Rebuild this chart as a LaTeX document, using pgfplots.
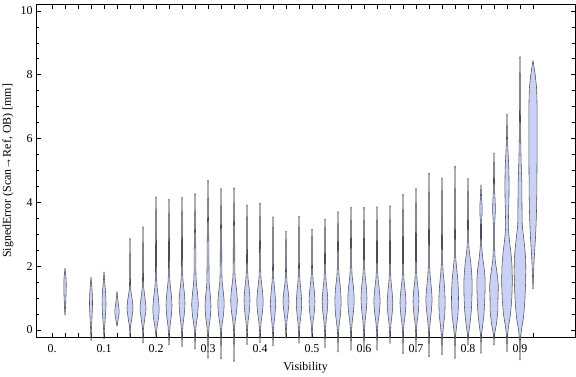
\documentclass[border=0pt]{standalone}
\usepackage{fontspec}
\setmainfont{Liberation Serif}
\usepackage{pgfplots}
\pgfplotsset{compat=1.18}
\usepackage{pgfplotstable}
\definecolor{vfill}{HTML}{C9D1F5}
\definecolor{vedge}{HTML}{4C4C55}

\pgfplotstableread{
c y w
0.025 0.47 0
0.025 0.7 0.5
0.025 1.0 0.9
0.025 1.3 1.2
0.025 1.5 1.2
0.025 1.7 0.8
0.025 1.93 0
0.025 nan 0
0.075 -0.33 0
0.075 0.0 0.4
0.075 0.4 1.0
0.075 0.8 1.5
0.075 1.1 1.3
0.075 1.4 0.7
0.075 1.65 0
0.075 nan 0
0.1 -0.28 0
0.1 0.0 0.4
0.1 0.4 1.3
0.1 0.8 2.0
0.1 1.2 1.5
0.1 1.5 0.7
0.1 1.82 0
0.1 nan 0
0.125 0.12 0
0.125 0.3 1.0
0.125 0.57 2.2
0.125 0.85 1.2
0.125 1.2 0
0.125 nan 0
0.15 -0.21 0
0.15 0.1 0.5
0.15 0.4 2.0
0.15 0.7 3.0
0.15 1.0 2.0
0.15 1.3 0.6
0.15 2.0 0.4
0.15 2.87 0
0.15 nan 0
0.175 -0.41 0
0.175 0.0 0.4
0.175 0.3 1.5
0.175 0.65 3.0
0.175 1.0 2.0
0.175 1.4 0.6
0.175 2.3 0.4
0.175 3.24 0
0.175 nan 0
0.2 -0.21 0
0.2 -0.05 0.6
0.2 0.15 1.3
0.2 0.35 2.4
0.2 0.65 3.2
0.2 1.0 2.4
0.2 1.35 1.1
0.2 1.75 0.55
0.2 2.6 0.5
0.2 3.6 0.3
0.2 4.18 0
0.2 nan 0
0.225 -0.47 0
0.225 -0.17 0.45
0.225 0.13 1.05
0.225 0.43 2.25
0.225 0.78 3.0
0.225 1.13 2.25
0.225 1.48 1.05
0.225 1.88 0.55
0.225 2.7 0.5
0.225 3.5 0.3
0.225 4.10 0
0.225 nan 0
0.25 -0.52 0
0.25 -0.11 0.45
0.25 0.19 1.05
0.25 0.49 2.25
0.25 0.84 3.0
0.25 1.19 2.25
0.25 1.54 1.05
0.25 1.94 0.55
0.25 2.75 0.5
0.25 3.55 0.3
0.25 4.16 0
0.25 nan 0
0.275 -0.60 0
0.275 -0.15 0.45
0.275 0.15 1.15
0.275 0.45 2.5
0.275 0.8 3.3
0.275 1.15 2.5
0.275 1.5 1.3
0.275 1.9 0.9
0.275 2.5 0.8
0.275 3.3 0.4
0.275 4.28 0
0.275 nan 0
0.3 -0.89 0
0.3 -0.2 0.45
0.3 0.1 1.05
0.3 0.4 2.25
0.3 0.75 3.0
0.3 1.1 2.25
0.3 1.45 1.2
0.3 1.9 1.0
0.3 2.7 0.8
0.3 3.7 0.4
0.3 4.70 0
0.3 nan 0
0.325 -0.91 0
0.325 -0.13 0.45
0.325 0.17 1.1
0.325 0.47 2.4
0.325 0.82 3.2
0.325 1.17 2.4
0.325 1.52 1.2
0.325 1.95 0.8
0.325 2.7 0.7
0.325 3.6 0.35
0.325 4.44 0
0.325 nan 0
0.35 -0.99 0
0.35 -0.03 0.45
0.35 0.27 1.15
0.35 0.57 2.5
0.35 0.92 3.3
0.35 1.27 2.5
0.35 1.62 1.2
0.35 2.0 0.8
0.35 2.8 0.7
0.35 3.7 0.35
0.35 4.46 0
0.35 nan 0
0.375 -0.46 0
0.375 -0.03 0.45
0.375 0.27 1.05
0.375 0.57 2.25
0.375 0.92 3.0
0.375 1.27 2.25
0.375 1.62 1.05
0.375 2.0 0.55
0.375 2.7 0.45
0.375 3.4 0.3
0.375 3.92 0
0.375 nan 0
0.4 -0.40 0
0.4 -0.05 0.45
0.4 0.25 1.1
0.4 0.55 2.4
0.4 0.9 3.2
0.4 1.25 2.4
0.4 1.6 1.1
0.4 2.0 0.6
0.4 2.7 0.5
0.4 3.4 0.3
0.4 3.98 0
0.4 nan 0
0.425 -0.50 0
0.425 -0.13 0.45
0.425 0.17 0.9
0.425 0.47 1.95
0.425 0.82 2.6
0.425 1.17 1.95
0.425 1.52 0.9
0.425 1.9 0.5
0.425 2.5 0.45
0.425 3.1 0.3
0.425 3.55 0
0.425 nan 0
0.45 -0.26 0
0.45 0.0 0.45
0.45 0.3 1.0
0.45 0.6 2.2
0.45 0.89 3.0
0.45 1.2 2.2
0.45 1.5 1.0
0.45 1.85 0.5
0.45 2.4 0.4
0.45 2.8 0.25
0.45 3.10 0
0.45 nan 0
0.475 -0.42 0
0.475 -0.1 0.45
0.475 0.2 0.95
0.475 0.5 2.0
0.475 0.85 2.7
0.475 1.2 2.0
0.475 1.55 0.95
0.475 1.95 0.5
0.475 2.6 0.45
0.475 3.1 0.3
0.475 3.57 0
0.475 nan 0
0.5 -0.24 0
0.5 0.0 0.45
0.5 0.27 1.05
0.5 0.55 2.25
0.5 0.89 3.0
0.5 1.24 2.25
0.5 1.59 1.05
0.5 1.95 0.5
0.5 2.5 0.45
0.5 2.85 0.3
0.5 3.16 0
0.5 nan 0
0.525 -0.55 0
0.525 -0.06 0.45
0.525 0.24 1.0
0.525 0.54 2.1
0.525 0.89 2.8
0.525 1.24 2.1
0.525 1.59 1.0
0.525 2.0 0.55
0.525 2.6 0.45
0.525 3.1 0.3
0.525 3.48 0
0.525 nan 0
0.55 -0.69 0
0.55 -0.1 0.5
0.55 0.2 1.3
0.55 0.5 2.5
0.55 0.9 3.1
0.55 1.3 2.5
0.55 1.65 1.2
0.55 2.05 0.6
0.55 2.7 0.5
0.55 3.2 0.3
0.55 3.71 0
0.55 nan 0
0.575 -0.63 0
0.575 -0.05 0.5
0.575 0.25 1.2
0.575 0.58 2.5
0.575 0.95 3.2
0.575 1.32 2.5
0.575 1.68 1.2
0.575 2.1 0.6
0.575 2.8 0.5
0.575 3.3 0.3
0.575 3.85 0
0.575 nan 0
0.6 -0.68 0
0.6 -0.05 0.45
0.6 0.28 1.1
0.6 0.62 2.3
0.6 1.0 3.0
0.6 1.37 2.3
0.6 1.72 1.1
0.6 2.1 0.55
0.6 2.8 0.5
0.6 3.3 0.3
0.6 3.85 0
0.6 nan 0
0.625 -0.63 0
0.625 -0.05 0.45
0.625 0.25 1.1
0.625 0.55 2.35
0.625 0.9 3.1
0.625 1.25 2.35
0.625 1.6 1.1
0.625 2.0 0.55
0.625 2.7 0.5
0.625 3.3 0.3
0.625 3.87 0
0.625 nan 0
0.65 -0.42 0
0.65 -0.1 0.45
0.65 0.2 1.0
0.65 0.5 2.1
0.65 0.85 2.8
0.65 1.2 2.1
0.65 1.55 1.0
0.65 1.95 0.55
0.65 2.7 0.5
0.65 3.3 0.3
0.65 3.90 0
0.65 nan 0
0.675 -0.75 0
0.675 -0.1 0.45
0.675 0.2 1.05
0.675 0.5 2.25
0.675 0.85 3.0
0.675 1.2 2.25
0.675 1.55 1.05
0.675 1.95 0.55
0.675 2.8 0.5
0.675 3.6 0.3
0.675 4.26 0
0.675 nan 0
0.7 -0.66 0
0.7 -0.05 0.45
0.7 0.25 1.05
0.7 0.55 2.25
0.7 0.9 3.0
0.7 1.25 2.25
0.7 1.6 1.05
0.7 2.0 0.55
0.7 2.9 0.5
0.7 3.8 0.3
0.7 4.44 0
0.7 nan 0
0.725 -0.84 0
0.725 -0.1 0.45
0.725 0.25 1.2
0.725 0.6 2.35
0.725 0.95 3.1
0.725 1.3 2.4
0.725 1.7 1.2
0.725 2.1 0.6
0.725 3.0 0.5
0.725 4.1 0.3
0.725 4.92 0
0.725 nan 0
0.75 -0.78 0
0.75 -0.3 0.4
0.75 0.1 1.4
0.75 0.5 2.8
0.75 0.95 3.1
0.75 1.4 2.4
0.75 1.8 1.2
0.75 2.2 0.6
0.75 3.2 0.45
0.75 4.2 0.3
0.75 4.77 0
0.75 nan 0
0.775 -0.90 0
0.775 -0.3 0.4
0.775 0.1 1.5
0.775 0.5 3.0
0.775 1.0 3.5
0.775 1.5 3.0
0.775 1.9 1.8
0.775 2.3 0.7
0.775 3.0 0.5
0.775 4.0 0.35
0.775 5.14 0
0.775 nan 0
0.8 -0.47 0
0.8 -0.15 0.5
0.8 0.2 2.0
0.8 0.6 3.3
0.8 1.1 4.0
0.8 1.6 4.0
0.8 2.1 2.8
0.8 2.5 1.2
0.8 2.9 0.6
0.8 3.6 0.45
0.8 4.2 0.3
0.8 4.75 0
0.8 nan 0
0.825 -0.73 0
0.825 -0.2 0.4
0.825 0.1 1.5
0.825 0.5 3.0
0.825 1.0 3.8
0.825 1.5 4.2
0.825 1.9 3.3
0.825 2.3 1.6
0.825 2.7 0.6
0.825 3.3 0.5
0.825 3.6 1.0
0.825 3.85 1.2
0.825 4.1 0.7
0.825 4.55 0
0.825 nan 0
0.85 -0.47 0
0.85 -0.15 0.5
0.85 0.2 2.5
0.85 0.6 3.8
0.85 1.0 4.0
0.85 1.4 4.3
0.85 1.8 3.0
0.85 2.2 1.2
0.85 2.7 0.6
0.85 3.3 0.7
0.85 3.7 1.3
0.85 4.0 1.2
0.85 4.4 0.6
0.85 5.0 0.4
0.85 5.55 0
0.85 nan 0
0.875 -0.68 0
0.875 -0.2 0.5
0.875 0.1 1.5
0.875 0.5 3.5
0.875 1.0 4.8
0.875 1.5 5.3
0.875 2.0 5.0
0.875 2.4 4.0
0.875 2.8 2.5
0.875 3.2 1.4
0.875 3.7 1.6
0.875 4.2 2.0
0.875 4.8 2.0
0.875 5.3 1.5
0.875 5.9 0.6
0.875 6.77 0
0.875 nan 0
0.9 -0.94 0
0.9 -0.3 0.5
0.9 0.0 1.5
0.9 0.4 3.5
0.9 0.8 4.6
0.9 1.3 5.4
0.9 1.8 5.8
0.9 2.3 5.5
0.9 2.8 4.0
0.9 3.3 2.3
0.9 3.9 2.0
0.9 4.5 1.9
0.9 5.1 1.3
0.9 5.8 0.8
0.9 6.6 0.5
0.9 7.6 0.4
0.9 8.57 0
0.9 nan 0
0.925 1.28 0
0.925 1.7 0.5
0.925 2.1 1.0
0.925 2.5 1.7
0.925 2.9 2.5
0.925 3.4 3.2
0.925 4.0 3.7
0.925 5.0 4.0
0.925 6.0 4.1
0.925 7.0 4.1
0.925 7.6 3.5
0.925 8.0 2.2
0.925 8.25 1.0
0.925 8.44 0
}\vio

\begin{document}
\begin{tikzpicture}
\path[use as bounding box] (0,0) rectangle (576bp,377bp);
\begin{axis}[
  at={(36bp,40bp)}, anchor=south west,
  scale only axis, width=539bp, height=332.5bp,
  xmin=-0.0308, xmax=1.0058, ymin=-0.219, ymax=10.2,
  clip=false,
  axis line style={line width=0.6bp},
  xtick={0,0.025,0.05,0.075,0.1,0.125,0.15,0.175,0.2,0.225,0.25,0.275,0.3,0.325,0.35,0.375,0.4,0.425,0.45,0.475,0.5,0.525,0.55,0.575,0.6,0.625,0.65,0.675,0.7,0.725,0.75,0.775,0.8,0.825,0.85,0.875,0.9,0.925},
  xticklabels={0.,,,,0.1,,,,0.2,,,,0.3,,,,0.4,,,,0.5,,,,0.6,,,,0.7,,,,0.8,,,,0.9,},
  ytick={0,2,4,6,8,10},
  minor y tick num=3,
  major tick length=4.5bp, minor tick length=3bp,
  tick style={black, line width=0.5bp},
  tick align=inside,
  /pgf/number format/assume math mode=true,
  tick label style={font=\fontsize{12}{14}\selectfont},
  xticklabel style={anchor=base, yshift=-15bp},
  label style={font=\fontsize{12}{14}\selectfont},
  xlabel={Visibility},
  ylabel={SignedError (Scan→Ref, OB) [mm]},
  xlabel style={at={(axis description cs:0.5,0)}, anchor=base, yshift=-33bp},
  ylabel style={at={([xshift=-28bp]axis description cs:0,0.5)}, anchor=center},
  unbounded coords=jump,
]
\addplot[draw=none, fill=vfill, smooth, tension=0.4] table[x expr=\thisrow{c}+0.001923*\thisrow{w}-0.0003, y=y] {\vio};
\addplot[draw=none, fill=vfill, smooth, tension=0.4] table[x expr=\thisrow{c}-0.001923*\thisrow{w}+0.0003, y=y] {\vio};
\addplot[draw=vedge, line width=0.55bp, smooth, tension=0.4] table[x expr=\thisrow{c}+0.001923*\thisrow{w}, y=y] {\vio};
\addplot[draw=vedge, line width=0.55bp, smooth, tension=0.4] table[x expr=\thisrow{c}-0.001923*\thisrow{w}, y=y] {\vio};
\end{axis}
\end{tikzpicture}
\end{document}
